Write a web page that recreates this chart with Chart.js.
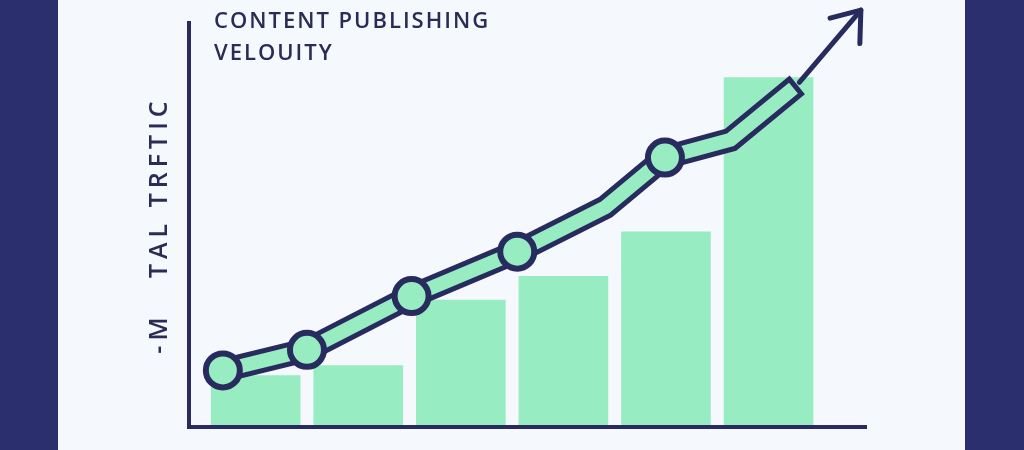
<!DOCTYPE html>
<html>
<head>
<meta charset="utf-8">
<script src="https://cdn.jsdelivr.net/npm/chart.js@4"></script>
<style>
  html, body { margin: 0; padding: 0; }
  body {
    width: 1024px; height: 450px; overflow: hidden;
    background: linear-gradient(to right, #2b2f6d 0, #2b2f6d 58px, #f5f8fc 58px, #f5f8fc 965px, #2b2f6d 965px, #2b2f6d 1024px);
  }
  canvas { display: block; }
</style>
</head>
<body>
<canvas id="c" width="1024" height="450"></canvas>
<script>
// ---- data ----
const TITLE_LINES = ['CONTENT PUBLISHING', 'VELOUITY'];
const Y_AXIS_TITLE = '-M   TAL TRFTIC';
const categories = ['1', '2', '3', '4', '5', '6'];
const barValues = [12.7, 15.2, 31.4, 37.3, 48.3, 86.5];
// trend line vertices (x in category units, y in axis units)
const lineX = [-0.32, 0.50, 1.52, 2.55, 3.41, 3.99, 4.63, 5.19];
const lineY = [14.0, 19.1, 32.4, 43.4, 54.4, 66.7, 71.1, 82.8];
const lineMarked = [true, true, true, true, false, true, false, false];
// arrow shaft and head
const arrowShaftX = [5.30, 5.90];
const arrowShaftY = [85.3, 103.2];
const arrowHeadX = [5.60, 5.90, 5.89];
const arrowHeadY = [101.2, 103.2, 94.9];

const NAVY = '#272b5e';
const GREEN = '#98ecc2';
const TEXT = '#2a2c55';

const pts = (xs, ys) => xs.map((x, i) => ({ x: x, y: ys[i] }));

// wide tracking for the axis title (drawn by the scale in the pre-dataset layer)
const spacingPlugin = {
  id: 'axisTitleSpacing',
  beforeDraw(chart) { try { chart.ctx.letterSpacing = '5px'; } catch (e) {} },
  beforeDatasetsDraw(chart) { try { chart.ctx.letterSpacing = '0px'; } catch (e) {} }
};

const titlePlugin = {
  id: 'chartTitleText',
  afterDraw(chart) {
    const ctx = chart.ctx;
    ctx.save();
    ctx.fillStyle = TEXT;
    ctx.font = '600 22px "Open Sans"';
    ctx.textBaseline = 'alphabetic';
    ctx.textAlign = 'left';
    try { ctx.letterSpacing = '2px'; } catch (e) {}
    TITLE_LINES.forEach((t, i) => ctx.fillText(t, 214, 28 + i * 32));
    ctx.restore();
  }
};

new Chart(document.getElementById('c'), {
  type: 'bar',
  data: {
    datasets: [
      {
        type: 'bar',
        data: pts(categories.map((c, i) => i), barValues),
        backgroundColor: GREEN,
        borderWidth: 0,
        barThickness: 89,
        order: 6
      },
      {
        type: 'line',
        data: pts(arrowShaftX, arrowShaftY),
        borderColor: NAVY,
        borderWidth: 5,
        borderCapStyle: 'round',
        pointRadius: 0,
        fill: false,
        clip: false,
        order: 5
      },
      {
        type: 'line',
        data: pts(arrowHeadX, arrowHeadY),
        borderColor: NAVY,
        borderWidth: 5,
        borderCapStyle: 'round',
        borderJoinStyle: 'round',
        pointRadius: 0,
        fill: false,
        clip: false,
        order: 5
      },
      {
        type: 'line',
        data: pts(lineX, lineY),
        borderColor: NAVY,
        borderWidth: 24,
        borderCapStyle: 'square',
        borderJoinStyle: 'miter',
        tension: 0,
        pointRadius: 0,
        fill: false,
        clip: false,
        order: 4
      },
      {
        type: 'line',
        data: pts(lineX, lineY),
        borderColor: GREEN,
        borderWidth: 14,
        borderCapStyle: 'square',
        borderJoinStyle: 'miter',
        tension: 0,
        pointRadius: ctx => lineMarked[ctx.dataIndex] ? 17 : 0,
        pointHoverRadius: ctx => lineMarked[ctx.dataIndex] ? 17 : 0,
        pointBackgroundColor: GREEN,
        pointBorderColor: NAVY,
        pointBorderWidth: 6,
        pointHoverBorderWidth: 6,
        fill: false,
        clip: false,
        order: 3
      }
    ]
  },
  options: {
    responsive: false,
    animation: false,
    devicePixelRatio: 1,
    events: [],
    layout: { padding: { left: 145, right: 158, top: 22, bottom: 20 } },
    plugins: {
      legend: { display: false },
      tooltip: { enabled: false },
      title: { display: false }
    },
    scales: {
      x: {
        type: 'linear',
        min: -0.65,
        max: 5.95,
        offset: false,
        grid: { display: false, drawTicks: false },
        ticks: { display: false },
        border: { display: true, color: NAVY, width: 4, z: 1 }
      },
      y: {
        type: 'linear',
        min: 0,
        max: 100,
        grid: { display: false, drawTicks: false },
        ticks: { display: false },
        border: { display: true, color: NAVY, width: 4, z: 1 },
        title: {
          display: true,
          text: Y_AXIS_TITLE,
          color: TEXT,
          font: { family: '"Open Sans"', size: 25, weight: '600', lineHeight: 1.2 },
          padding: { top: 0, bottom: 14 }
        }
      }
    }
  },
  plugins: [spacingPlugin, titlePlugin]
});
</script>
</body>
</html>
